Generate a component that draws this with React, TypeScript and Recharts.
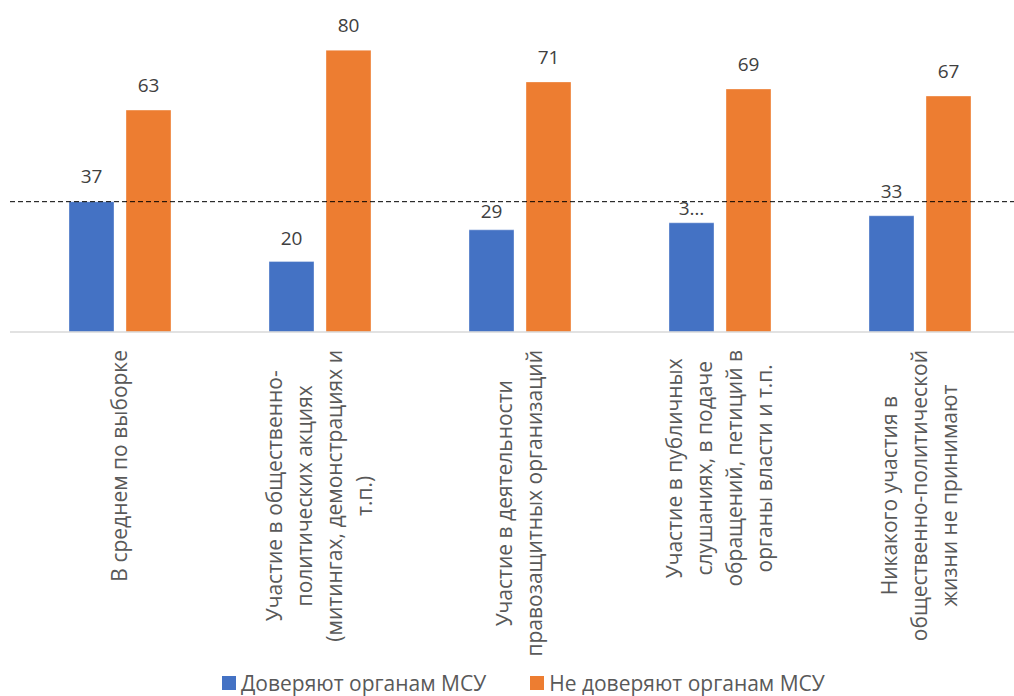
import React from 'react';
import { BarChart, Bar, XAxis, YAxis, ReferenceLine, LabelList, Legend } from 'recharts';

const categories = [
  'В среднем по выборке',
  'Участие в общественно-\nполитических акциях\n(митингах, демонстрациях и\nт.п.)',
  'Участие в деятельности\nправозащитных организаций',
  'Участие в публичных\nслушаниях, в подаче\nобращений, петиций в\nорганы власти и т.п.',
  'Никакого участия в\nобщественно-политической\nжизни не принимают',
];
const trustValues = [37, 20, 29, 31, 33];
const trustLabels = ['37', '20', '29', '3…', '33'];
const distrustValues = [63, 80, 71, 69, 67];
const averageLine = 37;
const seriesNames = ['Доверяют органам МСУ', 'Не доверяют органам МСУ'];

const data = categories.map((name, i) => ({
  name,
  trust: trustValues[i],
  distrust: distrustValues[i],
}));

const BLUE = '#4472C4';
const ORANGE = '#ED7D31';
const FONT = '"Open Sans", "Noto Sans", sans-serif';
const TICK_SIZE = 21;
const LINE_H = 30;
const LABEL_TOP = 350;
// Excel nudged a couple of blue labels down to avoid the dashed line
const trustLabelGap = [19, 17, 12, 8, 18];

let ctx: CanvasRenderingContext2D | null = null;
const textWidth = (s: string) => {
  if (!ctx) ctx = document.createElement('canvas').getContext('2d');
  if (!ctx) return s.length * 10;
  ctx.font = `${TICK_SIZE}px ${FONT}`;
  return ctx.measureText(s).width;
};

const CategoryTick = (props: any) => {
  const { x, payload } = props;
  const lines = String(payload.value).split('\n');
  const longest = Math.max(...lines.map(textWidth));
  const cy = LABEL_TOP + longest / 2;
  return (
    <g transform={`translate(${x},${cy}) rotate(-90)`}>
      <text textAnchor="middle" fill="#595959" fontSize={TICK_SIZE} fontFamily={FONT}>
        {lines.map((l, i) => (
          <tspan key={i} x={0} y={(i - (lines.length - 1) / 2) * LINE_H + TICK_SIZE * 0.35}>
            {l}
          </tspan>
        ))}
      </text>
    </g>
  );
};

const valueLabel = (texts: string[] | null, gaps: number[] | null) => (p: any) => {
  const { x, y, width, value, index } = p;
  const gap = gaps ? gaps[index] : 18;
  return (
    <text x={x + width / 2} y={y - gap} textAnchor="middle" fill="#404040" fontSize={19} fontFamily={FONT}>
      {texts ? texts[index] : value}
    </text>
  );
};

const LegendContent = () => (
  <div style={{ display: 'flex', fontFamily: FONT, fontSize: 21, color: '#595959', lineHeight: '24px' }}>
    {[BLUE, ORANGE].map((c, i) => (
      <div key={i} style={{ display: 'flex', alignItems: 'center', marginRight: 44 }}>
        <span style={{ width: 14, height: 14, background: c, display: 'inline-block', marginRight: 5 }} />
        <span>{seriesNames[i]}</span>
      </div>
    ))}
  </div>
);

export default function App() {
  return (
    <div style={{ position: 'absolute', left: 0, top: 0, width: 1014, height: 696, overflow: 'hidden', background: '#fff' }}>
      <BarChart
        width={1040}
        height={696}
        data={data}
        margin={{ top: 15, right: 20, left: 10, bottom: 0 }}
        barGap={12}
        barSize={45}
      >
        <XAxis
          dataKey="name"
          interval={0}
          height={364}
          padding={{ left: 10, right: 0 }}
          tickLine={false}
          axisLine={{ stroke: '#D9D9D9', strokeWidth: 1.5 }}
          tick={<CategoryTick />}
        />
        <YAxis hide domain={[0, 90]} />
        <Legend
          verticalAlign="middle"
          content={<LegendContent />}
          wrapperStyle={{ left: 222, top: 671, width: 800 }}
        />
        <Bar dataKey="trust" name={seriesNames[0]} fill={BLUE} stroke="#ffffff" strokeOpacity={0.35} isAnimationActive={false}>
          <LabelList dataKey="trust" content={valueLabel(trustLabels, trustLabelGap)} />
        </Bar>
        <Bar dataKey="distrust" name={seriesNames[1]} fill={ORANGE} stroke="#ffffff" strokeOpacity={0.35} isAnimationActive={false}>
          <LabelList dataKey="distrust" content={valueLabel(null, null)} />
        </Bar>
        <ReferenceLine y={averageLine} stroke="#000" strokeDasharray="5 3" strokeWidth={1} />
      </BarChart>
    </div>
  );
}
